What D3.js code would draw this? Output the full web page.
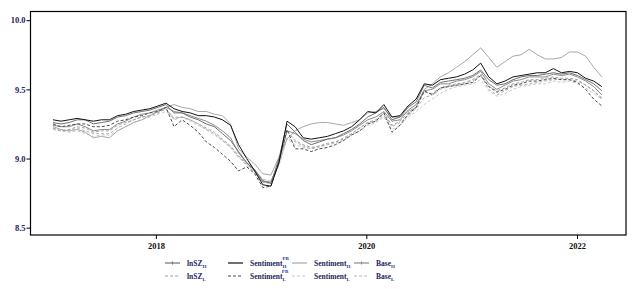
<!DOCTYPE html>
<html>
<head>
    <script src="https://d3js.org/d3.v7.min.js"></script>
    <meta charset="utf-8" />
    <title>lnSZ / Sentiment / Base</title>
    <style>
        body { margin: 0; background: #fff; }
        text { font-family: "Liberation Serif", "DejaVu Serif", serif; font-weight: bold; }
    </style>
</head>
<body>
<svg id="chart" width="638" height="289"></svg>

<script>
    // Sampling: one point every 28 days, starting 2017-01-09
    const startDate = new Date(2017, 0, 9);
    const stepDays = 28;

    const lnSZ_H = [9.26,9.25,9.26,9.28,9.28,9.25,9.26,9.27,9.30,9.31,9.33,9.34,9.35,9.37,9.39,9.33,9.33,9.30,9.28,9.25,
        9.23,9.18,9.13,9.05,8.97,8.92,8.84,8.82,9.00,9.25,9.19,9.13,9.10,9.12,9.14,9.15,9.18,9.21,9.25,9.30,
        9.33,9.37,9.28,9.30,9.37,9.41,9.53,9.51,9.55,9.56,9.57,9.58,9.60,9.64,9.57,9.53,9.54,9.57,9.59,9.60,
        9.60,9.61,9.62,9.61,9.62,9.60,9.57,9.54,9.49];
    const lnSZ_L = [9.22,9.20,9.21,9.23,9.22,9.19,9.20,9.20,9.24,9.26,9.28,9.30,9.31,9.33,9.36,9.29,9.30,9.28,9.25,9.22,
        9.19,9.14,9.09,9.02,8.96,8.91,8.83,8.82,8.98,9.20,9.13,9.10,9.08,9.09,9.11,9.12,9.14,9.18,9.22,9.26,
        9.28,9.33,9.24,9.27,9.33,9.37,9.48,9.47,9.51,9.53,9.54,9.55,9.57,9.61,9.52,9.49,9.51,9.54,9.55,9.57,
        9.57,9.58,9.59,9.58,9.58,9.57,9.53,9.49,9.43];
    const sentPB_H = [9.28,9.27,9.28,9.29,9.28,9.27,9.28,9.28,9.31,9.32,9.34,9.35,9.36,9.38,9.40,9.36,9.34,9.33,9.31,9.31,
        9.30,9.28,9.24,9.10,9.00,8.91,8.81,8.80,8.97,9.27,9.23,9.15,9.14,9.15,9.16,9.18,9.20,9.23,9.28,9.34,
        9.33,9.39,9.30,9.31,9.38,9.43,9.54,9.53,9.57,9.58,9.59,9.61,9.64,9.69,9.59,9.54,9.56,9.59,9.60,9.61,
        9.62,9.62,9.65,9.62,9.63,9.62,9.58,9.56,9.52];
    const sentPB_L = [9.25,9.23,9.24,9.25,9.25,9.23,9.23,9.24,9.27,9.28,9.30,9.31,9.33,9.34,9.37,9.23,9.28,9.24,9.19,9.12,
        9.08,9.03,8.98,8.91,8.94,8.89,8.79,8.80,8.98,9.21,9.07,9.07,9.05,9.07,9.08,9.10,9.13,9.17,9.20,9.25,
        9.27,9.33,9.19,9.24,9.32,9.37,9.49,9.46,9.51,9.52,9.53,9.54,9.55,9.60,9.52,9.48,9.50,9.53,9.54,9.56,
        9.56,9.57,9.58,9.57,9.57,9.55,9.50,9.43,9.38];
    const sent_H = [9.23,9.21,9.20,9.21,9.19,9.15,9.16,9.15,9.20,9.23,9.26,9.28,9.31,9.34,9.37,9.39,9.37,9.36,9.34,9.34,
        9.32,9.31,9.25,9.07,9.01,8.96,8.89,8.88,9.01,9.14,9.20,9.23,9.25,9.26,9.26,9.25,9.24,9.26,9.28,9.33,
        9.34,9.36,9.30,9.30,9.34,9.37,9.50,9.54,9.59,9.62,9.66,9.70,9.75,9.80,9.73,9.66,9.70,9.74,9.75,9.79,
        9.75,9.72,9.72,9.73,9.77,9.77,9.74,9.66,9.59];
    const sent_L = [9.21,9.20,9.19,9.20,9.18,9.16,9.17,9.17,9.20,9.23,9.26,9.28,9.30,9.32,9.34,9.30,9.30,9.27,9.24,9.21,
        9.17,9.13,9.08,9.01,8.96,8.91,8.85,8.84,8.96,9.14,9.10,9.08,9.07,9.08,9.10,9.11,9.13,9.17,9.20,9.24,
        9.26,9.30,9.21,9.24,9.30,9.34,9.39,9.43,9.47,9.50,9.52,9.53,9.54,9.57,9.49,9.45,9.47,9.50,9.52,9.53,
        9.54,9.54,9.56,9.55,9.56,9.54,9.51,9.47,9.43];
    const base_H = [9.24,9.23,9.23,9.25,9.23,9.20,9.21,9.21,9.25,9.27,9.30,9.32,9.33,9.35,9.37,9.34,9.33,9.31,9.29,9.27,
        9.24,9.20,9.15,9.04,8.97,8.91,8.83,8.83,8.97,9.20,9.18,9.14,9.12,9.13,9.14,9.15,9.17,9.20,9.24,9.28,
        9.30,9.34,9.27,9.28,9.35,9.39,9.49,9.50,9.54,9.54,9.56,9.57,9.59,9.63,9.54,9.50,9.53,9.56,9.57,9.59,
        9.59,9.59,9.61,9.60,9.61,9.59,9.56,9.52,9.46];
    const base_L = [9.22,9.20,9.20,9.22,9.20,9.18,9.18,9.18,9.22,9.25,9.28,9.30,9.31,9.34,9.36,9.28,9.30,9.28,9.25,9.21,
        9.18,9.13,9.08,9.01,8.95,8.90,8.84,8.83,8.95,9.15,9.12,9.09,9.07,9.09,9.10,9.12,9.15,9.18,9.22,9.26,
        9.27,9.31,9.23,9.26,9.31,9.36,9.44,9.46,9.50,9.52,9.53,9.54,9.56,9.60,9.50,9.46,9.49,9.52,9.53,9.54,
        9.55,9.56,9.57,9.57,9.57,9.56,9.53,9.49,9.44];

    const yTicks = [8.5, 9.0, 9.5, 10.0];
    const xTicks = [2018, 2020, 2022];

    // series: label parts, colour, dash, marker (drawn back to front)
    const series = [
        { name: "Sentiment", sup: "", sub: "L", values: sent_L, color: "#c8c8c8", dash: "3,2", col: 2, row: 1 },
        { name: "Base", sup: "", sub: "L", values: base_L, color: "#b4b4b4", dash: "3,2", col: 3, row: 1 },
        { name: "lnSZ", sup: "", sub: "L", values: lnSZ_L, color: "#a0a0a0", dash: "3,2", col: 0, row: 1 },
        { name: "Sentiment", sup: "", sub: "H", values: sent_H, color: "#a8a8a8", dash: null, col: 2, row: 0 },
        { name: "Base", sup: "", sub: "H", values: base_H, color: "#8c8c8c", dash: null, col: 3, row: 0, marker: true },
        { name: "lnSZ", sup: "", sub: "H", values: lnSZ_H, color: "#707070", dash: null, col: 0, row: 0, marker: true },
        { name: "Sentiment", sup: "PB", sub: "L", values: sentPB_L, color: "#4a4a4a", dash: "3,2", col: 1, row: 1 },
        { name: "Sentiment", sup: "PB", sub: "H", values: sentPB_H, color: "#111111", dash: null, col: 1, row: 0 }
    ];

    const width = 638;
    const height = 289;
    const plot = { left: 30.5, right: 626, top: 11.5, bottom: 235 };

    const svg = d3.select("#chart");

    const xScale = d3.scaleTime()
        .domain([new Date(2016, 9, 23), new Date(2022, 5, 20)])
        .range([plot.left, plot.right]);

    const yScale = d3.scaleLinear()
        .domain([8.447, 10.063])
        .range([plot.bottom, plot.top]);

    const dateAt = i => d3.timeDay.offset(startDate, stepDays * i);

    // frame
    svg.append("rect")
        .attr("x", plot.left)
        .attr("y", plot.top)
        .attr("width", plot.right - plot.left)
        .attr("height", plot.bottom - plot.top)
        .attr("fill", "none")
        .attr("stroke", "#000")
        .attr("stroke-width", 1.2);

    // axes
    const yAxis = d3.axisLeft(yScale)
        .tickValues(yTicks)
        .tickSize(4)
        .tickFormat(d3.format(".1f"));
    const gy = svg.append("g")
        .attr("transform", `translate(${plot.left},0)`)
        .call(yAxis);

    const xAxis = d3.axisBottom(xScale)
        .tickValues(xTicks.map(y => new Date(y, 0, 1)))
        .tickSize(4)
        .tickPadding(4)
        .tickFormat(d3.timeFormat("%Y"));
    const gx = svg.append("g")
        .attr("transform", `translate(0,${plot.bottom})`)
        .call(xAxis);

    [gx, gy].forEach(g => {
        g.select(".domain").remove();
        g.selectAll(".tick line").attr("stroke", "#000").attr("stroke-width", 1);
        g.selectAll(".tick text")
            .style("font-family", "'Liberation Serif', serif")
            .style("font-weight", "bold")
            .style("font-size", "8.5px");
    });
    gy.selectAll(".tick text").attr("fill", "#1e2460").attr("x", -5);
    gx.selectAll(".tick text").attr("fill", "#111");

    // lines
    const line = d3.line()
        .x((d, i) => xScale(dateAt(i)))
        .y(d => yScale(d));

    series.forEach(s => {
        svg.append("path")
            .datum(s.values)
            .attr("fill", "none")
            .attr("stroke", s.color)
            .attr("stroke-width", 1)
            .attr("stroke-dasharray", s.dash)
            .attr("stroke-linejoin", "round")
            .attr("d", line);
    });

    // legend
    const colX = [165, 228, 292, 354];
    const rowY = [263, 276];
    const legend = svg.append("g");

    series.forEach(s => {
        const x0 = colX[s.col];
        const y0 = rowY[s.row];
        legend.append("line")
            .attr("x1", x0).attr("x2", x0 + 15)
            .attr("y1", y0).attr("y2", y0)
            .attr("stroke", s.color)
            .attr("stroke-width", 1.2)
            .attr("stroke-dasharray", s.dash);
        if (s.marker) {
            legend.append("line")
                .attr("x1", x0 + 7.5).attr("x2", x0 + 7.5)
                .attr("y1", y0 - 1.5).attr("y2", y0 + 1.5)
                .attr("stroke", s.color);
        }
        const t = legend.append("text")
            .attr("x", x0 + 22)
            .attr("y", y0 + 2.5)
            .attr("fill", "#1e2460")
            .style("font-size", "7.5px");
        t.append("tspan").text(s.name);
        t.append("tspan")
            .attr("dy", 2)
            .attr("fill", "#2a3aa0")
            .style("font-size", "5px")
            .text(s.sub);
        if (s.sup) {
            t.append("tspan")
                .attr("dx", -4)
                .attr("dy", -8)
                .attr("fill", "#2a3aa0")
                .style("font-size", "5px")
                .text(s.sup);
        }
    });
</script>
</body>
</html>
